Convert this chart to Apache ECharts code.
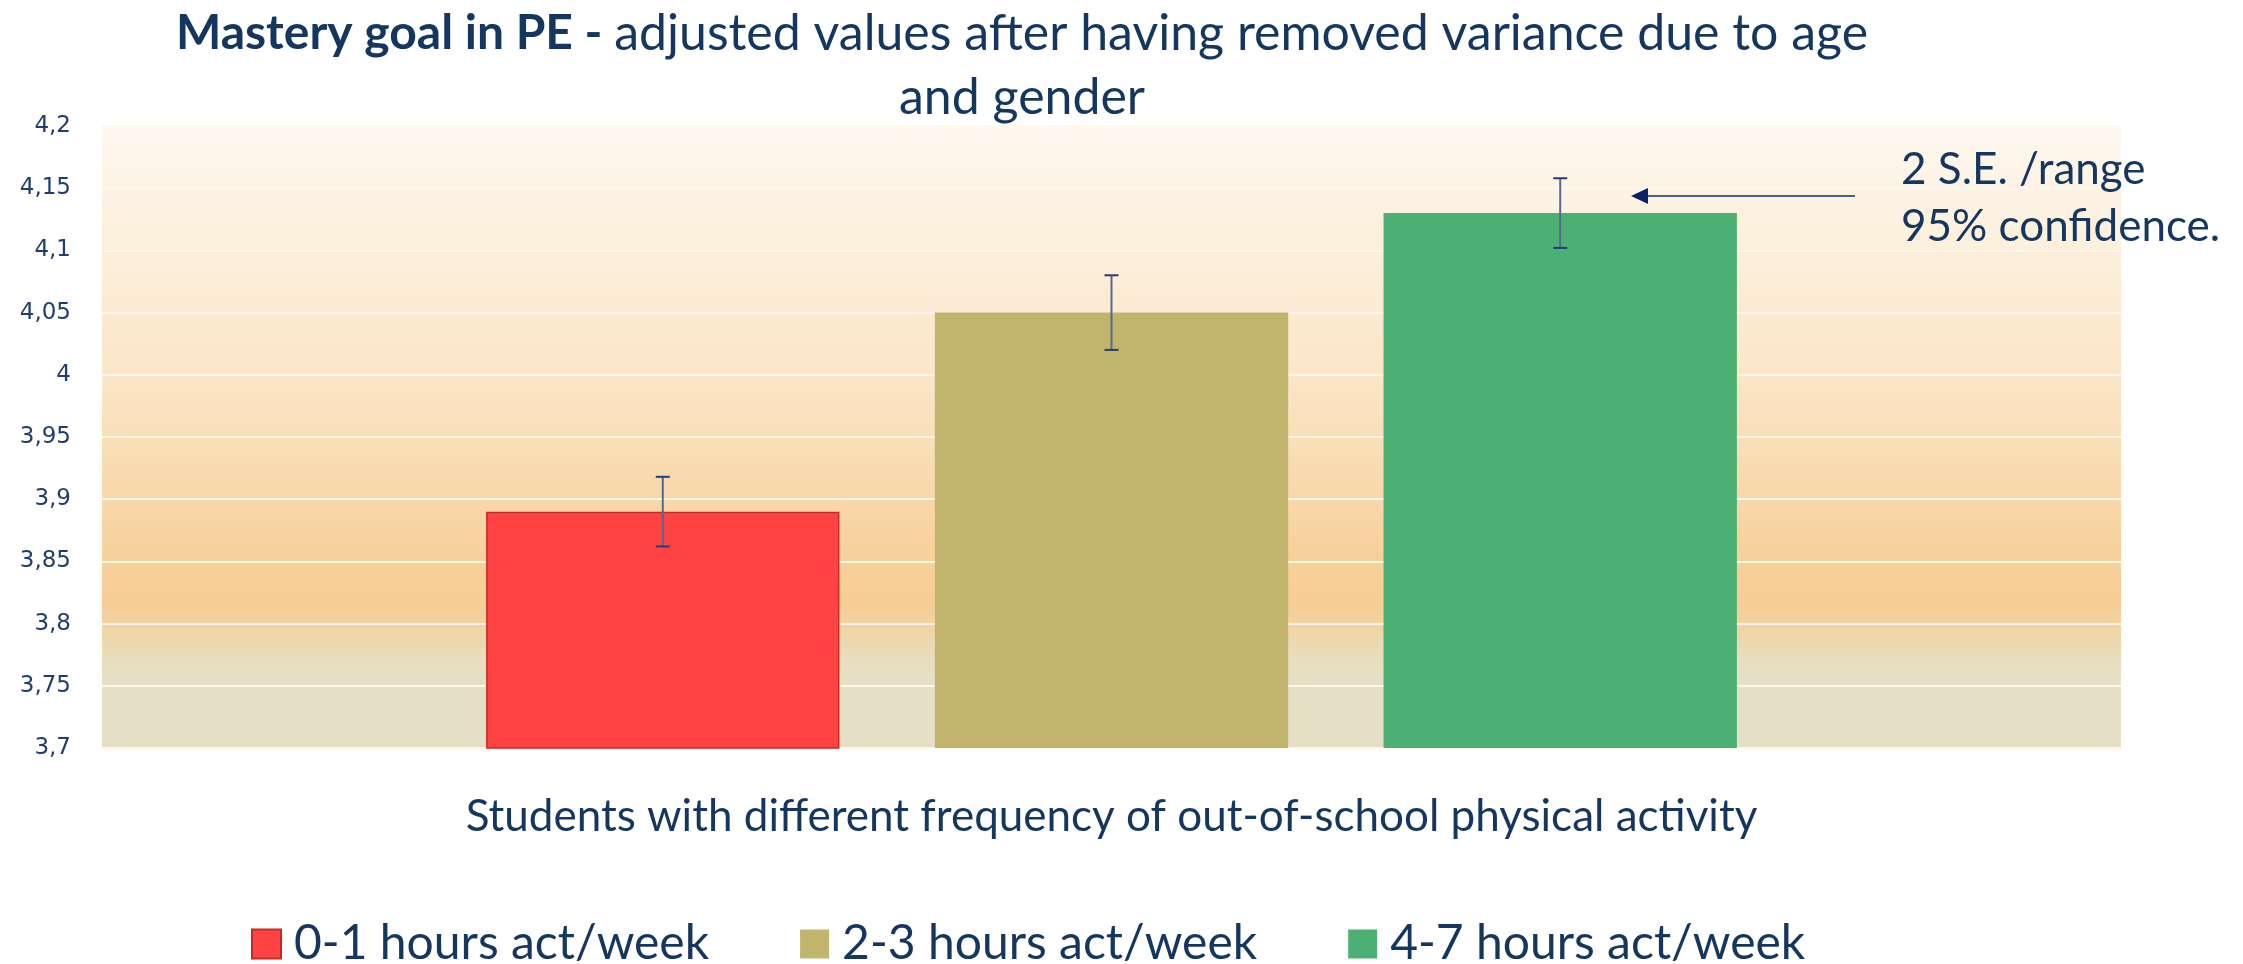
<!DOCTYPE html>
<html>
<head>
<meta charset="utf-8">
<title>Mastery goal in PE</title>
<script src="https://cdn.jsdelivr.net/npm/echarts@6/dist/echarts.min.js"></script>
<style>
  html, body { margin: 0; padding: 0; background: #fff; }
  #chart { width: 2243px; height: 964px; }
</style>
</head>
<body>
<div id="chart"></div>
<script>
// data
const groups = ['0-1 hours act/week', '2-3 hours act/week', '4-7 hours act/week']
const means = [3.89, 4.05, 4.13]
const errors = [0.028, 0.03, 0.028] // 2 S.E.
const yMin = 3.7
const yMax = 4.2
const yStep = 0.05

const colors = ['#FF4343', '#C1B46C', '#4CB074']
const textColor = '#14365F'
const font = 'Lato'
const barWidthRatio = 0.175
const barGapRatio = 0.27

const chart = echarts.init(document.getElementById('chart'))

const barSeries = groups.map((name, i) => ({
  name,
  type: 'bar',
  data: [means[i]],
  barWidth: (barWidthRatio * 100) + '%',
  barGap: (barGapRatio * 100) + '%',
  itemStyle: {
    color: colors[i],
    borderColor: i === 0 ? '#C42A2A' : colors[i],
    borderWidth: i === 0 ? 1.5 : 0
  },
  z: 2
}))

// error bars (+/- 2 S.E.), shifted onto each bar of the group
const errorSeries = {
  type: 'custom',
  name: 'error',
  data: means.map((m, i) => [0, m - errors[i], m + errors[i], i]),
  encode: { x: 0, y: [1, 2] },
  z: 5,
  renderItem(params, api) {
    const idx = api.value(3)
    const band = api.size([1, 0])[0]
    const barW = band * barWidthRatio
    const shift = (idx - 1) * barW * (1 + barGapRatio)
    const lo = api.coord([api.value(0), api.value(1)])
    const hi = api.coord([api.value(0), api.value(2)])
    const x = lo[0] + shift
    const cap = 7
    return {
      type: 'group',
      children: [
        { type: 'line', shape: { x1: x, y1: hi[1], x2: x, y2: lo[1] }, style: { stroke: '#56698F', lineWidth: 2 } },
        { type: 'line', shape: { x1: x - cap, y1: hi[1], x2: x + cap, y2: hi[1] }, style: { stroke: '#233E74', lineWidth: 2 } },
        { type: 'line', shape: { x1: x - cap, y1: lo[1], x2: x + cap, y2: lo[1] }, style: { stroke: '#233E74', lineWidth: 2 } }
      ]
    }
  }
}

chart.setOption({
  backgroundColor: '#fff',
  animation: false,
  title: {
    left: 1017,
    top: -3,
    textAlign: 'center',
    text: '{b|Mastery goal in PE - }{n|adjusted values after having removed variance due to age}\n{n|and gender}',
    textStyle: {
      rich: {
        b: { fontFamily: font, fontSize: 48, fontWeight: 'bold', color: textColor, lineHeight: 64 },
        n: { fontFamily: font, fontSize: 50, fontWeight: 'normal', color: textColor, lineHeight: 64 }
      }
    }
  },
  grid: {
    left: 102,
    right: 122,
    top: 126,
    bottom: 216,
    show: true,
    borderWidth: 0,
    backgroundColor: new echarts.graphic.LinearGradient(0, 0, 0, 1, [
      { offset: 0, color: '#FEF8EF' },
      { offset: 0.4, color: '#FBE6C7' },
      { offset: 0.7, color: '#F7D09A' },
      { offset: 0.77, color: '#F6CD94' },
      { offset: 0.86, color: '#E8DEBE' },
      { offset: 0.9, color: '#E5E0C5' },
      { offset: 1, color: '#E5E0C5' }
    ])
  },
  legend: {
    data: groups,
    left: 246,
    top: 915,
    icon: 'rect',
    itemWidth: 29,
    itemHeight: 29,
    itemGap: 91,
    textStyle: {
      fontFamily: font,
      fontSize: 48,
      color: textColor,
      padding: [0, 0, 0, 8]
    }
  },
  xAxis: {
    type: 'category',
    data: [''],
    name: 'Students with different frequency of out-of-school physical activity',
    nameLocation: 'middle',
    nameGap: 47,
    nameTextStyle: { fontFamily: font, fontSize: 44, color: textColor },
    axisLine: { show: false },
    axisTick: { show: false },
    axisLabel: { show: false }
  },
  yAxis: {
    type: 'value',
    min: yMin,
    max: yMax,
    interval: yStep,
    axisLine: { show: false },
    axisTick: { show: false },
    axisLabel: {
      margin: 31,
      fontFamily: 'DejaVu Sans',
      fontSize: 23,
      color: '#1F3E6E',
      formatter: v => String(+v.toFixed(2)).replace('.', ',')
    },
    splitLine: { lineStyle: { color: '#FFF7EC', width: 2 } }
  },
  graphic: [
    { type: 'line', shape: { x1: 1855, y1: 196, x2: 1645, y2: 196 }, style: { stroke: '#4A5F8C', lineWidth: 2 }, z: 10 },
    { type: 'polygon', shape: { points: [[1631, 196], [1648, 188], [1648, 204]] }, style: { fill: '#0A2366' }, z: 10 },
    {
      type: 'text', left: 1901, top: 141, z: 10,
      style: { text: '2 S.E. /range\n95% confidence.', fontFamily: font, fontSize: 44, lineHeight: 57, fill: textColor }
    }
  ],
  series: [...barSeries, errorSeries]
})
</script>
</body>
</html>
